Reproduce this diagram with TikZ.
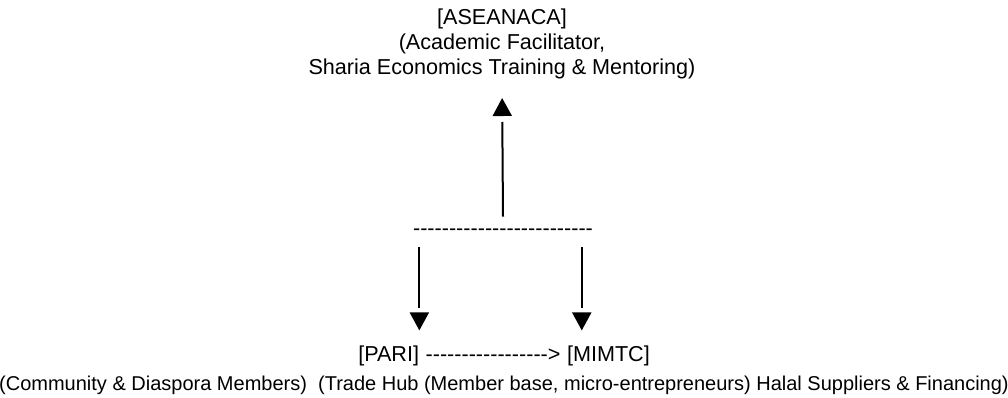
\documentclass[tikz,border=0pt]{standalone}
\usepackage{fontspec}
\setmainfont{Liberation Sans}[Ligatures=TeXOff]
\usetikzlibrary{arrows.meta, positioning, calc, decorations.markings}
\begin{document}
\begin{tikzpicture}[x=0.75pt,y=-0.75pt,
    every node/.style={inner sep=0pt,font=\fontsize{16.2}{18.75}\selectfont},
    flow/.style n args={2}{line width=1.5pt,shorten >=#2,postaction={decorate},
      decoration={markings,mark=at position -#1 with {\arrow{Triangle[length=13.5pt,width=14.25pt]}}}}]
  \useasboundingbox (0,0) rectangle (1008,397);
  \node[align=center] (aca) at (502,44) {[ASEANACA]\\(Academic Facilitator,\\Sharia Economics Training \& Mentoring)};
  \node[minimum height=22.5pt] (hub) at (503,232) {-------------------------};
  \node[anchor=base west] (pari) at (358,361) {[PARI]};
  \node[anchor=base west] (link) at (pari.base east) {\ ----------------->\ \null};
  \node[anchor=base west] (mimtc) at (link.base east) {[MIMTC]};
  \node[anchor=base,font=\fontsize{15}{18}\selectfont] (roles) at (504,390) {(Community \& Diaspora Members)\ \ (Trade Hub (Member base, micro-entrepreneurs) Halal Suppliers \& Financing)};
  \draw[flow={14pt}{32pt}] (hub.north) -- (aca.south);
  \draw[flow={11pt}{27.5pt}] (hub.south -| pari.north east) -- (pari.north east);
  \draw[flow={11pt}{27.5pt}] (hub.south -| {$(mimtc.north west)!0.18!(mimtc.north east)$}) -- ($(mimtc.north west)!0.18!(mimtc.north east)$);
\end{tikzpicture}
\end{document}
